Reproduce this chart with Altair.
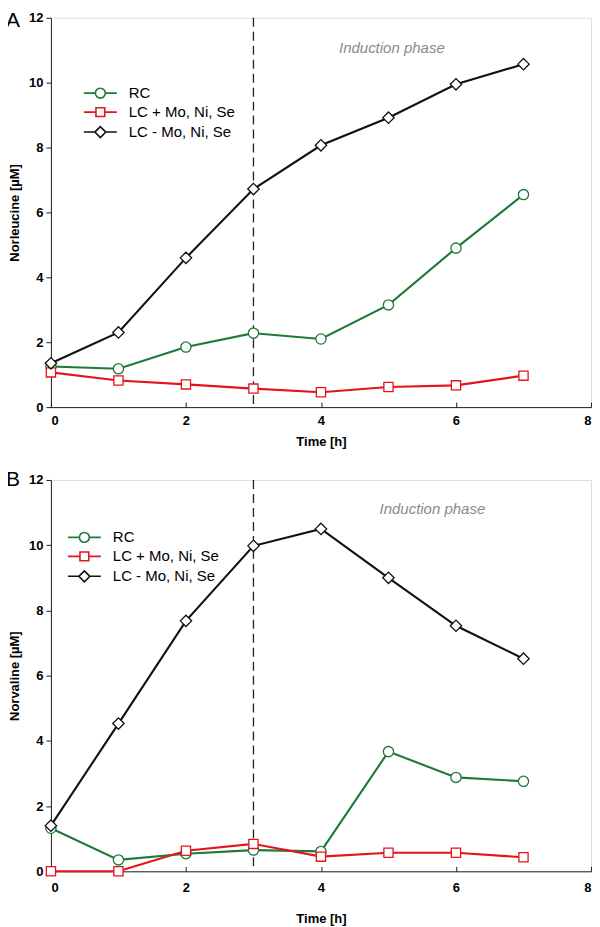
import altair as alt
import pandas as pd

# ---------------- data ----------------
time_h = [0, 1, 2, 3, 4, 5, 6, 7]
series_names = ["RC", "LC + Mo, Ni, Se", "LC - Mo, Ni, Se"]
series_colors = ["#1d7a38", "#e3151b", "#111111"]
series_shapes = ["circle", "square", "diamond"]

norleucine_rc = [1.25, 1.18, 1.85, 2.28, 2.10, 3.15, 4.90, 6.55]
norleucine_lc_plus = [1.07, 0.82, 0.70, 0.57, 0.46, 0.62, 0.67, 0.97]
norleucine_lc_minus = [1.35, 2.30, 4.60, 6.72, 8.07, 8.92, 9.95, 10.57]

norvaline_rc = [1.32, 0.35, 0.54, 0.65, 0.61, 3.67, 2.88, 2.76]
norvaline_lc_plus = [0.0, 0.0, 0.63, 0.84, 0.45, 0.57, 0.57, 0.43]
norvaline_lc_minus = [1.40, 4.53, 7.68, 9.98, 10.50, 9.00, 7.53, 6.52]

induction_start = [3]
annotation_text = ["Induction phase"]
annotation_a = [5.05, 11.08]
annotation_b = [5.65, 11.10]
panel_letters = ["A", "B"]

y_ticks = [0, 2, 4, 6, 8, 10, 12]
x_ticks = [0, 2, 4, 6, 8]

# legend glyphs: line + marker in one custom path
legend_paths = [
    "M-3,0L-0.9,0M0.9,0L3,0M-0.9,0A0.9,0.9 0 1,0 0.9,0A0.9,0.9 0 1,0 -0.9,0Z",
    "M-3,0L-0.8,0M0.8,0L3,0M-0.8,-0.8L0.8,-0.8L0.8,0.8L-0.8,0.8Z",
    "M-3,0L-1,0M1,0L3,0M-1,0L0,-1L1,0L0,1Z",
]
marker_sizes = [105, 85, 130]

FONT = "Liberation Sans"
W = 541


def long_frame(rc, lcp, lcm):
    rows = []
    for name, vals in zip(series_names, [rc, lcp, lcm]):
        for t, v in zip(time_h, vals):
            rows.append({"time": t, "value": v, "series": name})
    return pd.DataFrame(rows)


def panel(df, letter, ytitle, annot, legend_xy, label_pad, title_pad, height, letter_dy):
    xscale = alt.Scale(domain=[0, 8], nice=False)
    yscale = alt.Scale(domain=[0, 12], nice=False)

    x_main = alt.X(
        "time:Q", scale=xscale,
        axis=alt.Axis(title="Time [h]", values=x_ticks, ticks=False, grid=False,
                      labelPadding=label_pad, titlePadding=title_pad,
                      domainColor="#222", labelFontWeight="bold", labelFontSize=13,
                      titleFontWeight="bold", titleFontSize=13, labelFont=FONT,
                      titleFont=FONT, labelColor="black", titleColor="black"),
    )
    y_main = alt.Y(
        "value:Q", scale=yscale,
        axis=alt.Axis(title=ytitle, values=y_ticks, grid=False, tickSize=5,
                      labelPadding=3, titlePadding=7, domainColor="#222",
                      tickColor="#222", labelFontWeight="bold", labelFontSize=13,
                      titleFontWeight="bold", titleFontSize=13, labelFont=FONT,
                      titleFont=FONT, labelColor="black", titleColor="black"),
    )

    base = alt.Chart(df)

    line_layers = []
    point_layers = []
    for i, (name, color, shape, size) in enumerate(
        zip(series_names, series_colors, series_shapes, marker_sizes)
    ):
        sub = base.transform_filter(alt.datum.series == name)
        line_layers.append(
            sub.mark_line(strokeWidth=2.1, color=color).encode(
                x=x_main if i == 0 else alt.X("time:Q", scale=xscale, axis=None),
                y=y_main if i == 0 else alt.Y("value:Q", scale=yscale),
            )
        )
        point_layers.append(
            sub.mark_point(
                shape=shape, size=size, filled=True, fill="white", stroke=color,
                strokeWidth=1.3, opacity=1
            ).encode(
                x=alt.X("time:Q", scale=xscale, axis=None),
                y=alt.Y("value:Q", scale=yscale),
            )
        )

    # dashed line at start of induction + inward ticks on x (second bottom axis moved up)
    rule_layer = alt.Chart(pd.DataFrame({"x": induction_start})).mark_rule(
        strokeDash=[9, 5], strokeWidth=1.3, color="#222"
    ).encode(
        x=alt.X("x:Q", scale=xscale,
                axis=alt.Axis(orient="bottom", offset=-5, labels=False, domain=False,
                              ticks=True, tickSize=5, tickColor="#222", values=x_ticks,
                              title=None, grid=False)),
    )

    legend_layer = base.mark_point(opacity=0, filled=True, fill="white", strokeWidth=1.6).encode(
        x=alt.X("time:Q", scale=xscale, axis=None),
        y=alt.Y("value:Q", scale=yscale),
        stroke=alt.Stroke(
            "series:N", scale=alt.Scale(domain=series_names, range=series_colors),
            legend=alt.Legend(
                title=None, orient="none", legendX=legend_xy[0], legendY=legend_xy[1],
                labelFont=FONT, labelFontSize=15, labelColor="black",
                symbolSize=121, symbolFillColor="white", symbolStrokeWidth=1.6,
                symbolOpacity=1, labelOffset=21, rowPadding=2,
            ),
        ),
        shape=alt.Shape("series:N", scale=alt.Scale(domain=series_names, range=legend_paths)),
    )

    annot_df = pd.DataFrame({"x": [annot[0]], "y": [annot[1]], "t": annotation_text})
    annot_layer = alt.Chart(annot_df).mark_text(
        font=FONT, fontSize=15, fontStyle="italic", color="#8a8a8a"
    ).encode(
        x=alt.X("x:Q", scale=xscale, axis=None),
        y=alt.Y("y:Q", scale=yscale),
        text="t:N",
    )

    letter_layer = alt.Chart(pd.DataFrame({"t": [letter]})).mark_text(
        font=FONT, fontSize=21, align="left", baseline="alphabetic", color="black"
    ).encode(
        x=alt.value(-45), y=alt.value(letter_dy), text="t:N"
    )

    return alt.layer(
        *line_layers, rule_layer, *point_layers, legend_layer, annot_layer, letter_layer
    ).resolve_axis(x="independent").properties(width=W, height=height)


df_a = long_frame(norleucine_rc, norleucine_lc_plus, norleucine_lc_minus)
df_b = long_frame(norvaline_rc, norvaline_lc_plus, norvaline_lc_minus)

panel_a = panel(df_a, panel_letters[0], "Norleucine [µM]", annotation_a, (42, 68), 7, 8, 390, 9)
panel_b = panel(df_b, panel_letters[1], "Norvaline [µM]", annotation_b, (26, 50), 10, 18, 392, 6)

chart = alt.vconcat(panel_a, panel_b, spacing=19).resolve_scale(
    stroke="independent", shape="independent"
).resolve_legend(
    stroke="independent", shape="independent"
).properties(
    padding={"left": -3, "top": 0, "right": 0, "bottom": 0}
).configure_view(
    stroke="#222", strokeWidth=1
).configure(background="white")

chart.save("out.html", embed_options={"renderer": "svg", "actions": False})
